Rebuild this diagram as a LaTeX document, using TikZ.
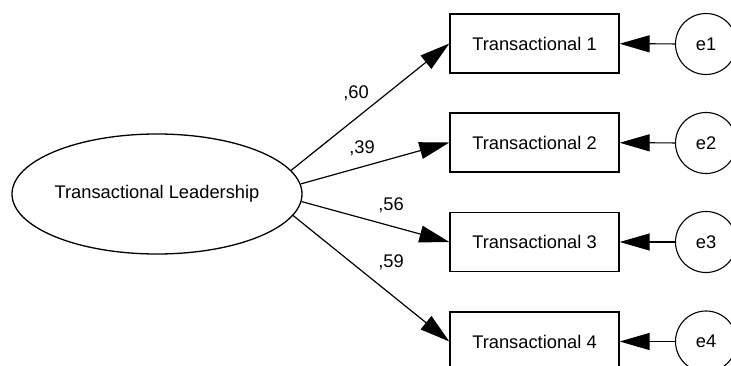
\documentclass[tikz,border=0pt]{standalone}
\usepackage{fontspec}
\setmainfont{Liberation Sans}
\usetikzlibrary{arrows.meta,shapes.geometric}
\begin{document}
\begin{tikzpicture}[x=1pt,y=-1pt,
  every node/.style={font=\fontsize{18.3}{22}\selectfont},
  lat/.style={draw, line width=1.3pt, ellipse, minimum width=290pt, minimum height=120pt, inner sep=0pt},
  obs/.style={draw, line width=1.3pt, rectangle, minimum width=169pt, minimum height=59pt, inner sep=0pt},
  err/.style={draw, line width=1.1pt, circle, minimum size=61pt, inner sep=0pt},
  path/.style={line width=1.2pt, -{Triangle[length=30pt,width=17pt]}},
  lbl/.style={inner sep=0pt}]
\useasboundingbox (0,0) rectangle (731,366);
\clip (0,0) rectangle (731,366);
\node[lat] (L) at (157,194) {Transactional Leadership};
\node[obs] (T1) at (534.5,43.5) {Transactional 1};
\node[obs] (T2) at (534.5,142.5) {Transactional 2};
\node[obs] (T3) at (534.5,242) {Transactional 3};
\node[obs] (T4) at (534.5,341.5) {Transactional 4};
\node[err] (E1) at (706,44) {e1};
\node[err] (E2) at (706,143) {e2};
\node[err] (E3) at (706,242) {e3};
\node[err] (E4) at (706,341.5) {e4};
\draw[path] (L.10) -- (T1.west);
\draw[path] (L.4) -- (T2.west);
\draw[path] (L.-3) -- (T3.west);
\draw[path] (L.-9) -- (T4.west);
\draw[path] (E1) -- (T1);
\draw[path] (E2) -- (T2);
\draw[path] (E3) -- (T3);
\draw[path] (E4) -- (T4);
\node[lbl] (l1) at (356,93) {,60};
\node[lbl] (l2) at (362,148) {,39};
\node[lbl] (l3) at (391,205) {,56};
\node[lbl] (l4) at (391,262) {,59};
\end{tikzpicture}
\end{document}
